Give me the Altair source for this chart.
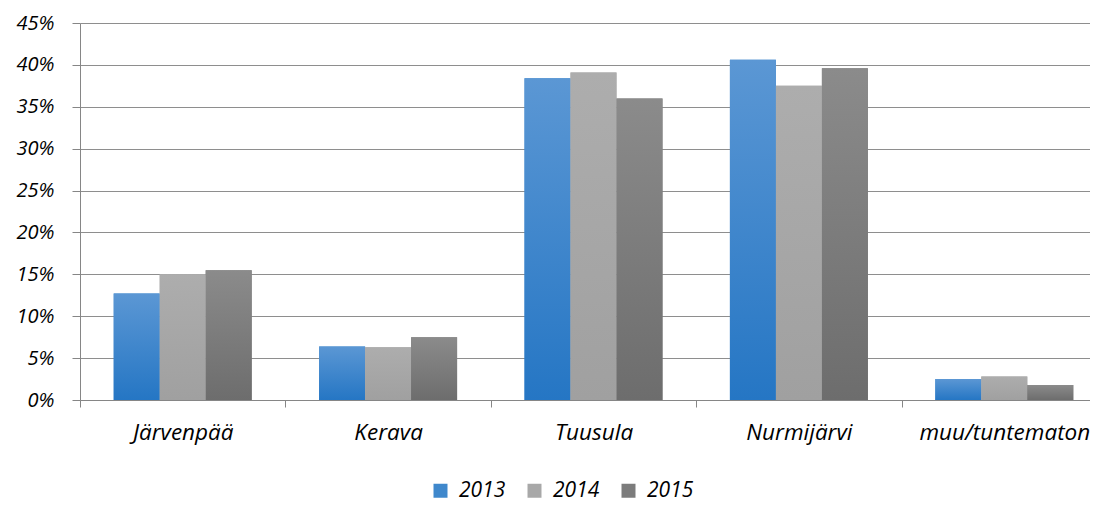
import altair as alt
import pandas as pd

categories = ["Järvenpää", "Kerava", "Tuusula", "Nurmijärvi", "muu/tuntematon"]
years = ["2013", "2014", "2015"]
v2013 = [0.127, 0.064, 0.384, 0.406, 0.025]
v2014 = [0.150, 0.063, 0.391, 0.375, 0.028]
v2015 = [0.155, 0.075, 0.360, 0.396, 0.018]
y_ticks = [0, 0.05, 0.10, 0.15, 0.20, 0.25, 0.30, 0.35, 0.40, 0.45]

solid = ["#3F88CC", "#A8A8A8", "#7C7C7C"]
grad_top = ["#5B97D4", "#ADADAD", "#8B8B8B"]
grad_bot = ["#2576C4", "#A0A0A0", "#6D6D6D"]

rows = []
for yr, vals in zip(years, [v2013, v2014, v2015]):
    for c, v in zip(categories, vals):
        rows.append({"kunta": c, "vuosi": yr, "osuus": v})
df = pd.DataFrame(rows)

FONT = "Open Sans"
W = 1010
H = 377

x_enc = alt.X("kunta:N", sort=categories, title=None,
              scale=alt.Scale(domain=categories, range=[0, 1027],
                              paddingInner=0, paddingOuter=0),
              axis=alt.Axis(labelAngle=0, labelFont=FONT, labelFontSize=22.5,
                            labelFontStyle="italic", labelColor="#000000",
                            labelPadding=14, tickBand="extent", tickSize=7,
                            tickColor="#868686", domainColor="#868686",
                            labelLimit=300, grid=False))
y_enc = alt.Y("osuus:Q", title=None,
              scale=alt.Scale(domain=[0, 0.45], nice=False),
              axis=alt.Axis(values=y_ticks, format=".0%", labelFont=FONT,
                            labelFontSize=20, labelFontStyle="italic",
                            labelColor="#000000", labelPadding=18,
                            tickSize=8, tickColor="#868686",
                            domainColor="#868686", gridColor="#8E8E8E",
                            gridWidth=1))
xo = alt.XOffset("vuosi:N",
                 scale=alt.Scale(domain=years, paddingInner=0, paddingOuter=0.733))

base = alt.Chart(df).mark_bar().encode(
    x=x_enc, y=y_enc, xOffset=xo,
    color=alt.Color("vuosi:N", title=None,
                    scale=alt.Scale(domain=years, range=solid),
                    legend=alt.Legend(orient="none", direction="horizontal",
                                      legendX=350, legendY=457,
                                      labelFont=FONT, labelFontSize=21,
                                      labelFontStyle="italic", labelColor="#000000",
                                      symbolType="square", symbolSize=196,
                                      symbolStrokeWidth=0, columnPadding=18,
                                      labelOffset=8)),
)

layers = [base]
for i, yr in enumerate(years):
    g = alt.Gradient(gradient="linear",
                     stops=[alt.GradientStop(color=grad_top[i], offset=0),
                            alt.GradientStop(color=grad_bot[i], offset=1)],
                     x1=0, x2=0, y1=0, y2=1)
    layers.append(
        alt.Chart(df).transform_filter(alt.datum.vuosi == yr)
        .mark_bar(fill=g)
        .encode(x=x_enc, y=y_enc, xOffset=xo)
    )

chart = alt.layer(*layers).properties(
    width=W, height=H,
    autosize=alt.AutoSizeParams(type="none"),
    padding={"left": 72, "top": 15, "right": 0, "bottom": 104},
).configure_view(stroke=None)

chart.save("out.html", embed_options={"renderer": "svg", "actions": False})
